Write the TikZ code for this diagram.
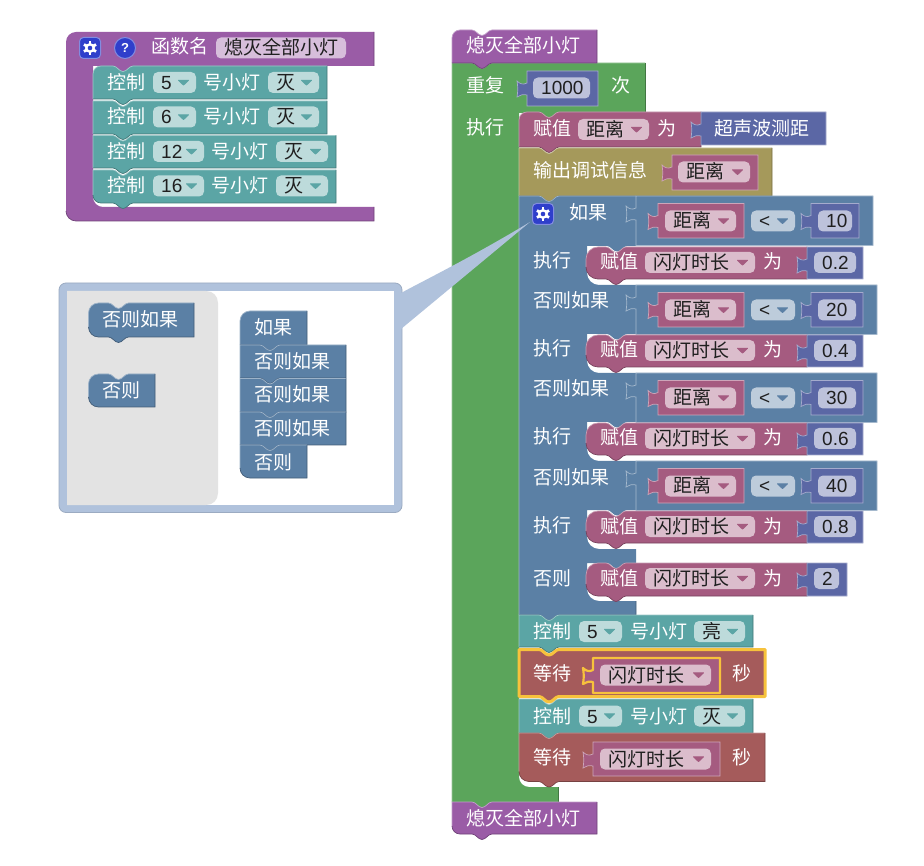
\documentclass[tikz,border=0pt]{standalone}
\usepackage{fontspec}
\setmainfont{Noto Sans CJK SC}
\newfontfamily\latf{Liberation Sans}
\definecolor{pur}{HTML}{9A5CA6}
\definecolor{tea}{HTML}{5BA5A5}
\definecolor{grn}{HTML}{5BA55B}
\definecolor{blu}{HTML}{5B80A5}
\definecolor{red}{HTML}{A55B80}
\definecolor{mth}{HTML}{5B67A5}
\definecolor{brn}{HTML}{A5995B}
\definecolor{wai}{HTML}{A55B5B}
\definecolor{bub}{HTML}{B0C2DC}
\definecolor{sel}{HTML}{F7C23C}
\definecolor{icn}{HTML}{2F3FCB}
\newcount\nn
\tikzset{
  lab/.style={inner sep=0pt,anchor=base west,text=white,font=\fontsize{19}{19}\selectfont},
  fldtxt/.style={inner sep=0pt,anchor=base west,text=black!88,font=\fontsize{19}{19}\selectfont},
  edgeL/.style={line width=.7pt}
}
\def\nR#1#2{-- (#1,#2) .. controls (#1+4,#2) and (#1+6,#2+5.5) .. (#1+10,#2+5.5) .. controls (#1+14,#2+5.5) and (#1+16,#2) .. (#1+20,#2)}
\def\tL#1#2{-- (#1,#2) .. controls (#1-4,#2) and (#1-6,#2+5.5) .. (#1-10,#2+5.5) .. controls (#1-14,#2+5.5) and (#1-16,#2) .. (#1-20,#2)}
% rounded corner: start, corner, end
\def\rc#1#2#3#4#5#6{-- (#1,#2) .. controls (#1*.45+#3*.55,#2*.45+#4*.55) and (#5*.45+#3*.55,#6*.45+#4*.55) .. (#5,#6)}
% colour, x1,y1,x2,y2, r-top, r-bottom, notch?, tab?
\newcommand\stmt[9]{%
  \ifnum#8=1 \def\topn{\nR{#2+20}{#3}}\else\def\topn{}\fi
  \ifnum#9=1 \def\botn{\tL{#2+40}{#5}}\else\def\botn{}\fi
  \fill[#1] (#2,#3+#6) .. controls (#2,#3+#6*.45) and (#2+#6*.45,#3) .. (#2+#6,#3) \topn -- (#4,#3) -- (#4,#5) \botn -- (#2+#7,#5) .. controls (#2+#7*.45,#5) and (#2,#5-#7*.45) .. (#2,#5-#7) -- cycle;
  \draw[#1!60!white,edgeL] (#2,#5-#7) -- (#2,#3+#6) .. controls (#2,#3+#6*.45) and (#2+#6*.45,#3) .. (#2+#6,#3) \topn -- (#4,#3);
  \draw[#1!72!black,edgeL] (#4,#3) -- (#4,#5) \botn -- (#2+#7,#5) .. controls (#2+#7*.45,#5) and (#2,#5-#7*.45) .. (#2,#5-#7);
}
% colour, x1,y1,x2,y2
\newcommand\valb[5]{%
  \filldraw[fill=#1,draw=#1!55!white,edgeL] (#2,#3) -- (#4,#3) -- (#4,#5) -- (#2,#5) -- (#2,#3+24) .. controls (#2-4,#3+23) and (#2-7,#3+24) .. (#2-10,#3+26) .. controls (#2-9,#3+20) and (#2-9,#3+16) .. (#2-10,#3+10) .. controls (#2-7,#3+13) and (#2-4,#3+14) .. (#2,#3+12) -- cycle;
}
\newcommand\lbl[3]{\global\advance\nn by 1 \node[lab] (t\the\nn) at (#1,#2+7) {#3};}
% x1,x2,ycentre,colour,text : field with dropdown
\newcommand\ddf[5]{%
  \fill[#4!40!white,rounded corners=5pt] (#1,#3-10.5) rectangle (#2,#3+10.5);
  \global\advance\nn by 1 \node[fldtxt] (t\the\nn) at (#1+8,#3+7) {#5};
  \filldraw[fill=#4,draw=#4,line join=round,line width=1pt] (#2-17.5,#3-2.2) -- (#2-7.5,#3-2.2) -- (#2-12.5,#3+2.5) -- cycle;
}
% x1,x2,ycentre,colour,text : plain field
\newcommand\nmf[5]{%
  \fill[#4!40!white,rounded corners=5pt] (#1,#3-10.5) rectangle (#2,#3+10.5);
  \global\advance\nn by 1 \node[fldtxt] (t\the\nn) at (#1+8,#3+7) {#5};
}
\newcommand\gearicon[2]{%
  \begin{scope}[shift={(#1,#2)}]
    \filldraw[fill=icn,draw=icn!60!white,line width=1pt,rounded corners=4pt] (-10.5,-10.5) rectangle (10.5,10.5);
    \foreach \a in {30,90,...,330} {\draw[white,line width=2.8pt] (0,0) ++(\a:3) -- ++(\a:4);}
    \fill[white] (0,0) circle (5);
    \fill[icn] (0,0) circle (2.3);
  \end{scope}
}
\newcommand\lampt[7]{% xlabel,ycentre,fieldx2,num,xhao,x1on,x2on (state in \lampstate)
  \lbl{#1}{#2}{控制}
  \ddf{#1+46}{#3}{#2}{tea}{\latf #4}
  \lbl{#5}{#2}{号小灯}
  \ddf{#6}{#7}{#2}{tea}{\lampstate}
}
\newcommand\setrow[5]{% ytop,valright,fieldright,num,ybot
  \stmt{red}{586}{#1}{807}{#5}{12}{12}{1}{1}
  \lbl{600}{#1+15}{赋值}
  \ddf{645}{755}{#1+15.5}{red}{闪灯时长}
  \lbl{763}{#1+15}{为}
  \valb{mth}{807}{#1}{#2}{#5}
  \nmf{814}{#3}{#1+15.5}{mth}{\latf #4}
}
\newcommand\cmprow[4]{% ytop,right,numright,num
  \valb{blu}{636}{#1}{#2}{#1+49.5}
  \valb{red}{658}{#1+7.5}{744}{#1+42}
  \ddf{665}{736}{#1+25}{red}{距离}
  \ddf{751}{795}{#1+25}{blu}{\latf <}
  \valb{mth}{811}{#1+7.5}{#3+7}{#1+42}
  \nmf{818}{#3}{#1+25}{mth}{\latf #4}
}
\begin{document}
\begin{tikzpicture}[x=1pt,y=-1pt]
\useasboundingbox (0,0) rectangle (924,866);
\fill[white] (0,0) rectangle (924,866);

% ---- function definition block
\fill[pur] (66,42) .. controls (66,36.5) and (70.5,32) .. (76,32) -- (374,32) -- (374,66) \tL{133}{66} -- (93,66) -- (93,197) \rc{93}{197}{93}{207}{103}{207} -- (374,207) -- (374,221) -- (76,221) .. controls (70.5,221) and (66,216.5) .. (66,211) -- cycle;
\draw[pur!72!black,edgeL] (374,32) -- (374,66) (374,207) -- (374,221) -- (76,221) .. controls (70.5,221) and (66,216.5) .. (66,211);
\gearicon{90}{48}
\filldraw[fill=icn,draw=icn!60!white,line width=1pt] (125,48) circle (10.5);
\node[inner sep=0pt,text=white,font=\latf\bfseries\fontsize{13}{13}\selectfont] (q) at (125,48) {?};
\lbl{151}{47}{函数名}
\nmf{216}{346}{48}{pur}{熄灭全部小灯}

\def\lampstate{灭}
\stmt{tea}{93}{66}{327}{99}{8}{0}{1}{1}
\lampt{107}{82.5}{196}{5}{203}{268}{319}
\stmt{tea}{93}{101}{327}{134}{0}{0}{1}{1}
\lampt{107}{117}{196}{6}{203}{268}{319}
\stmt{tea}{93}{135.5}{336}{168}{0}{0}{1}{1}
\lampt{107}{151.5}{204}{12}{211}{276}{328}
\stmt{tea}{93}{170}{336}{203}{0}{8}{1}{1}
\lampt{107}{186}{204}{16}{211}{276}{328}

% ---- right column: repeat
\fill[grn] (452,63) \nR{472}{63} -- (645,63) -- (645,113) \tL{559}{113} -- (519,113) -- (519,777) \rc{519}{777}{519}{787}{529}{787} -- (558,787) -- (558,802) \tL{492}{802} -- (452,802) -- cycle;
\draw[grn!60!white,edgeL] (452,802) -- (452,63) \nR{472}{63} -- (645,63);
\draw[grn!72!black,edgeL] (645,63) -- (645,113) (558,787) -- (558,802);

\stmt{pur}{452}{30}{597}{63}{8}{0}{1}{1}
\lbl{466}{46}{熄灭全部小灯}
\lbl{466}{86}{重复}
\valb{mth}{527}{71}{598}{106}
\nmf{533}{590}{88}{mth}{\latf 1000}
\lbl{611}{86}{次}
\lbl{466}{128}{执行}

% set distance
\stmt{red}{519}{112}{701}{147}{8}{0}{1}{1}
\lbl{533}{129}{赋值}
\ddf{578}{649}{129.5}{red}{距离}
\lbl{657}{129}{为}
\valb{mth}{701}{112}{826}{145}
\lbl{714}{129}{超声波测距}

% debug
\stmt{brn}{519}{148}{772}{196}{0}{0}{1}{1}
\lbl{533}{171}{输出调试信息}
\valb{red}{672}{155}{758}{190}
\ddf{678}{750}{172}{red}{距离}

% if block body
\fill[blu] (519,196) \nR{539}{196} -- (636,196) -- (636,246) \tL{627}{246} -- (587,246) \rc{587}{273}{587}{285}{599}{285} -- (636,285) -- (636,334) \tL{627}{334} -- (587,334) \rc{587}{361}{587}{373}{599}{373} -- (636,373) -- (636,422) \tL{627}{422} -- (587,422) \rc{587}{449}{587}{461}{599}{461} -- (636,461) -- (636,510) \tL{627}{510} -- (587,510) \rc{587}{537}{587}{549}{599}{549} -- (636,549) -- (636,563) \tL{627}{563} -- (587,563) \rc{587}{589}{587}{601}{599}{601} -- (636,601) -- (636,615) \tL{559}{615} -- (519,615) -- cycle;
\draw[blu!60!white,edgeL] (519,615) -- (519,196) \nR{539}{196} -- (636,196);
\draw[blu!72!black,edgeL] (636,601) -- (636,615) \tL{559}{615} -- (519,615);

\lbl{569}{213}{如果}
\cmprow{196}{873}{852}{10}
\lbl{533}{261}{执行}
\setrow{247}{863}{856}{0.2}{279}
\lbl{533}{301}{否则如果}
\cmprow{285}{877}{856}{20}
\lbl{533}{349}{执行}
\setrow{335}{863}{856}{0.4}{367}
\lbl{533}{389}{否则如果}
\cmprow{373}{877}{856}{30}
\lbl{533}{437}{执行}
\setrow{423}{863}{856}{0.6}{455}
\lbl{533}{477}{否则如果}
\cmprow{461}{877}{856}{40}
\lbl{533}{525}{执行}
\setrow{511}{863}{856}{0.8}{543}
\lbl{533}{578}{否则}
\setrow{563}{847}{839}{2}{596}

% lamp on
\def\lampstate{亮}
\stmt{tea}{519}{615}{753}{647}{0}{0}{1}{1}
\lampt{533}{631.5}{622}{5}{630}{694}{745}

% lamp off
\def\lampstate{灭}
\stmt{tea}{519}{699}{753}{733}{0}{0}{1}{1}
\lampt{533}{716}{622}{5}{630}{694}{745}

% wait 1 (selected)
\stmt{wai}{519}{649.5}{765}{696.5}{0}{0}{1}{1}
\draw[sel,line width=3pt,line join=round] (519,649.5) \nR{539}{649.5} -- (765,649.5) -- (765,696.5) \tL{559}{696.5} -- (519,696.5) -- cycle;
\lbl{533}{673}{等待}
\valb{red}{593}{658}{720}{693}
\draw[sel,line width=2.2pt,line join=round] (593,658) -- (720,658) -- (720,693) -- (593,693) -- (593,682) .. controls (589,681) and (586,682) .. (583,684) .. controls (584,678) and (584,674) .. (583,668) .. controls (586,671) and (589,672) .. (593,670) -- cycle;
\ddf{600}{711}{675}{red}{闪灯时长}
\lbl{732}{673}{秒}

% wait 2
\stmt{wai}{519}{733}{765}{781.5}{0}{10}{1}{1}
\lbl{533}{757}{等待}
\valb{red}{593}{742}{720}{776}
\ddf{600}{711}{759}{red}{闪灯时长}
\lbl{732}{757}{秒}

% bottom call
\stmt{pur}{452}{802}{597}{834}{0}{8}{1}{1}
\lbl{466}{818}{熄灭全部小灯}

% ---- mutator bubble
\fill[bub,rounded corners=7pt] (59,283) rectangle (402,512.5);
\draw[bub!88!black,line width=.8pt,rounded corners=7pt] (59,283) rectangle (402,512.5);
\fill[bub] (401,293) .. controls (425,280) and (470,258) .. (530,222) -- (401,329) -- cycle;
\fill[white] (67,291) rectangle (394,505);
\fill[black!11] (67,291) -- (206,291) .. controls (213,291) and (218,296) .. (218,303) -- (218,493) .. controls (218,500) and (213,505) .. (206,505) -- (67,505) -- cycle;

\gearicon{543}{214}

% flyout
\stmt{blu}{88.5}{303}{194}{337}{10}{10}{1}{1}
\lbl{102}{320}{否则如果}
\stmt{blu}{88.5}{374}{155}{407}{10}{10}{1}{0}
\lbl{102}{391}{否则}
% workspace
\stmt{blu}{240}{311}{307}{345}{10}{0}{0}{1}
\lbl{254}{328}{如果}
\stmt{blu}{240}{345}{346}{378}{0}{0}{1}{1}
\lbl{254}{362}{否则如果}
\stmt{blu}{240}{378.5}{346}{412}{0}{0}{1}{1}
\lbl{254}{395}{否则如果}
\stmt{blu}{240}{412}{346}{445}{0}{0}{1}{1}
\lbl{254}{429}{否则如果}
\stmt{blu}{240}{445}{307}{478}{0}{10}{1}{0}
\lbl{254}{462}{否则}
\end{tikzpicture}
\end{document}
